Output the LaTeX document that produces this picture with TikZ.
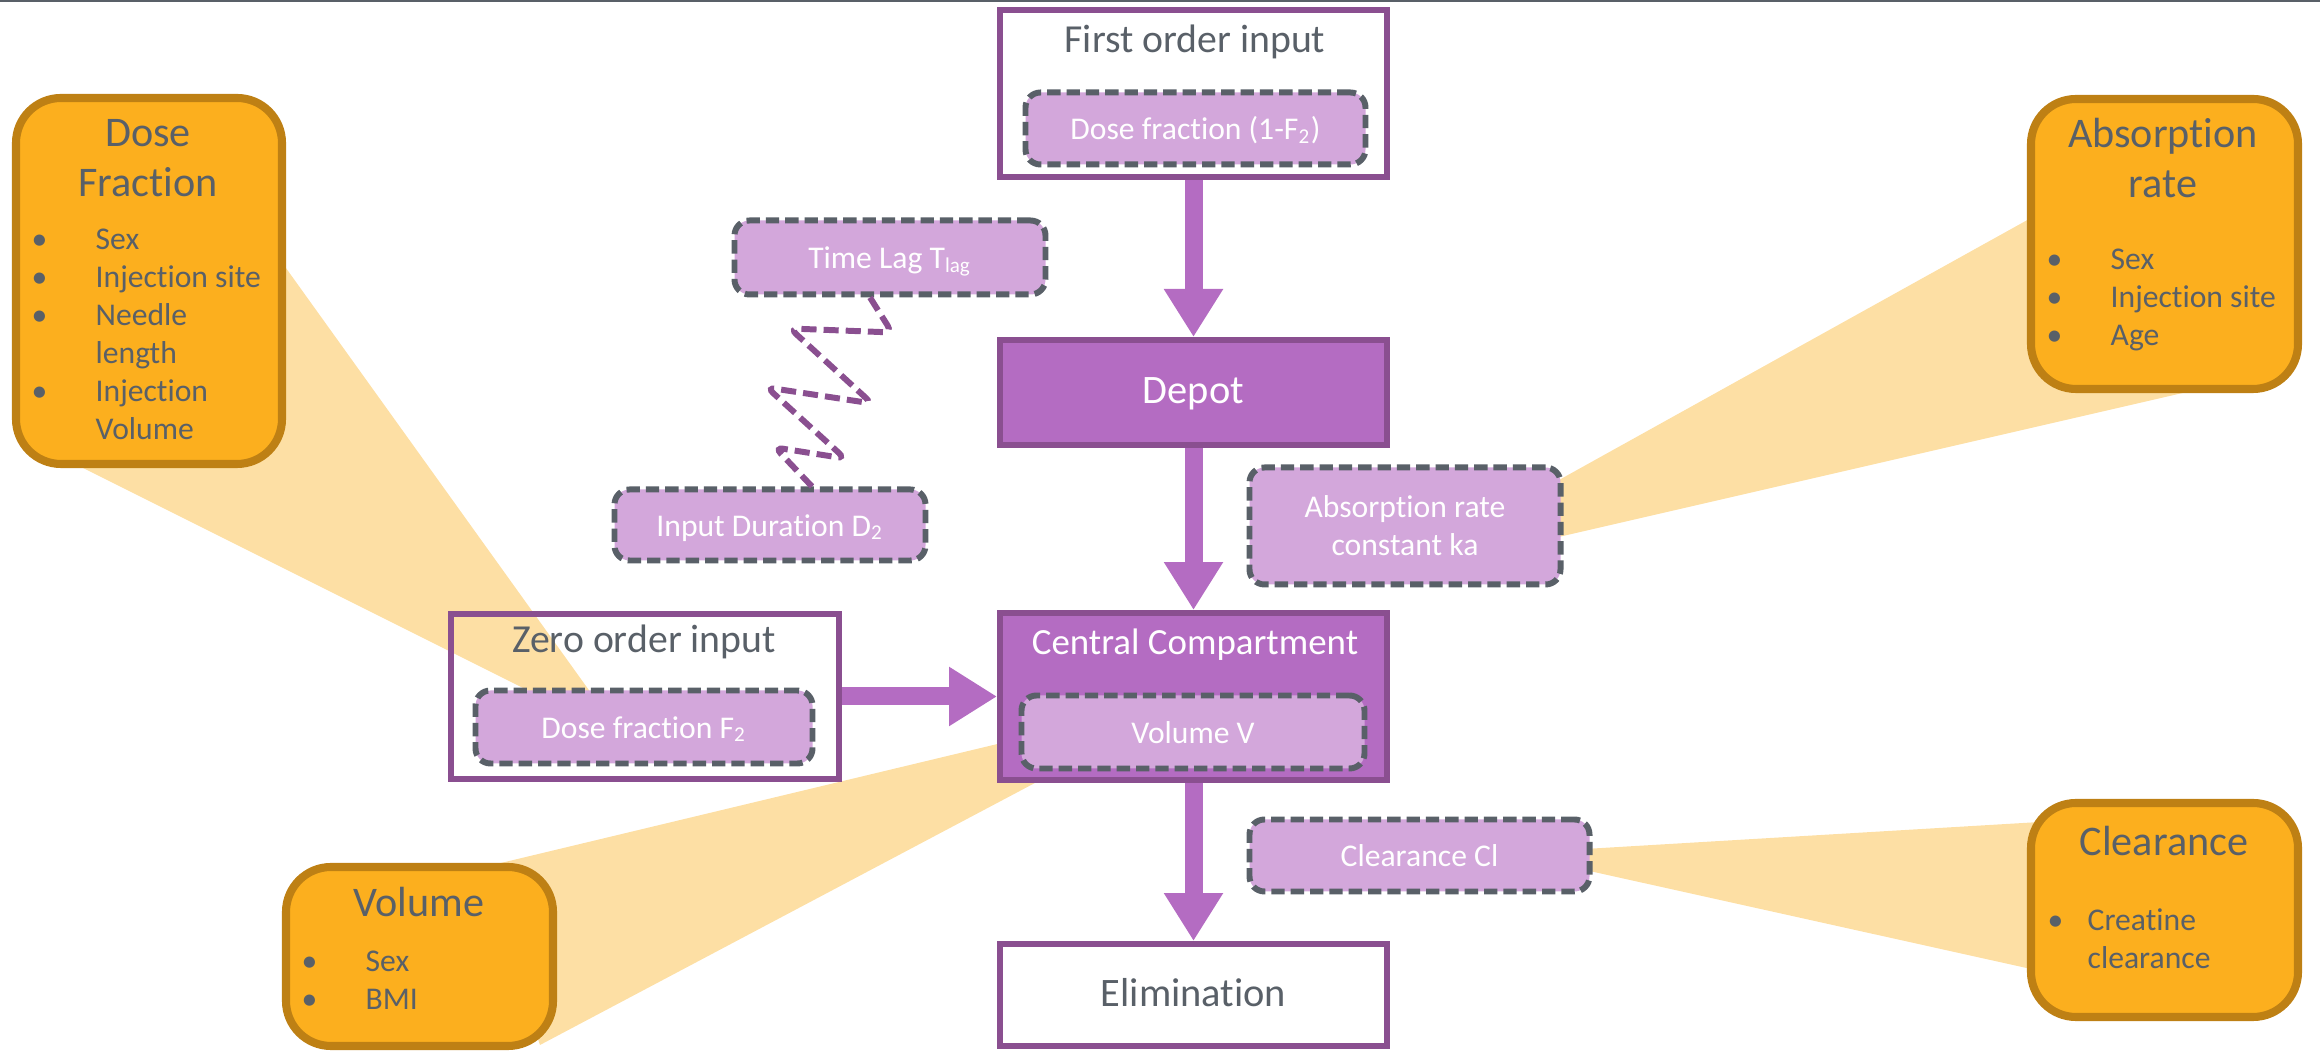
\documentclass[tikz,border=0pt]{standalone}
\usepackage{fontspec}
\setmainfont{Carlito}[Ligatures=NoCommon]
\usetikzlibrary{arrows.meta}

\definecolor{covorange}{RGB}{252,175,30}
\definecolor{covedge}{RGB}{190,128,20}
\definecolor{beamorange}{RGB}{253,223,164}
\definecolor{midpurple}{RGB}{180,108,194}
\definecolor{darkpurple}{RGB}{138,79,144}
\definecolor{lightpurple}{RGB}{211,167,219}
\definecolor{textgray}{RGB}{89,96,104}

\tikzset{
	comp/.style={draw=darkpurple, line width=1.7pt, minimum width=3.87cm, inner sep=0pt, text=textgray, text height=6.4pt, text depth=0pt, font=\fontsize{11.5}{13.8}\selectfont},
	comptitle/.style={anchor=base, inner sep=0pt, text=textgray, font=\fontsize{11.3}{13.6}\selectfont},
	param/.style={draw=textgray, fill=lightpurple, line width=1.7pt, dash pattern=on 3.8pt off 1.7pt, rounded corners=0.15cm, inner sep=0pt, text=white, align=center, font=\fontsize{9}{10.8}\selectfont},
	oneline/.style={text height=6.5pt, text depth=0pt},
	cov/.style={draw=covedge, fill=covorange, line width=2.3pt, rounded corners=0.45cm, minimum width=2.67cm},
	covtitle/.style={anchor=base, inner sep=0pt, text=textgray, font=\fontsize{12}{14.2}\selectfont},
	covlist/.style={anchor=base west, inner sep=0pt, text=textgray, font=\fontsize{9}{10.8}\selectfont},
	beam/.style={fill=beamorange},
	flow/.style={draw=midpurple, line width=0.18cm, -{Triangle[width=0.56cm, length=0.48cm]}},
	lagline/.style={draw=darkpurple, line width=1.7pt, dash pattern=on 4.3pt off 2pt, rounded corners=0.08cm}
}

\begin{document}
\begin{tikzpicture}
	\useasboundingbox (0,0) rectangle (23.2,-10.52);
	\draw[textgray, line width=0.03cm] (0,-0.01) -- (23.2,-0.01);

	%Beams
	\fill[beam] (5.96,-7.00) -- (2.73,-2.50) -- (0.47,-4.50) -- (5.47,-7.00) -- cycle;
	\fill[beam] (15.50,-4.85) -- (20.40,-2.13) -- (22.00,-3.89) -- (15.50,-5.39) -- cycle;
	\fill[beam] (10.10,-7.41) -- (4.80,-8.68) -- (5.40,-10.45) -- (10.50,-7.75) -- cycle;
	\fill[beam] (15.85,-8.49) -- (20.40,-8.22) -- (20.40,-9.71) -- (15.85,-8.70) -- cycle;

	%Covariates
	\node[cov, minimum width=2.66cm, minimum height=3.66cm] (dosefrac) at (1.49,-2.81) {};
	\node[cov, minimum height=2.90cm] (absrate) at (21.645,-2.44) {};
	\node[cov, minimum height=1.79cm] (volbox) at (4.195,-9.565) {};
	\node[cov, minimum height=2.14cm] (clbox) at (21.645,-9.10) {};
	\node[covtitle] (dosefractitle) at (1.48,-1.47) {\begin{tabular}[t]{@{}c@{}}Dose\\Fraction\end{tabular}};
	\node[covtitle] (absratetitle) at (21.63,-1.48) {\begin{tabular}[t]{@{}c@{}}Absorption\\rate\end{tabular}};
	\node[covtitle] (voltitle) at (4.19,-9.17) {Volume};
	\node[covtitle] (cltitle) at (21.64,-8.56) {Clearance};
	\node[covlist] (dosefraclist) at (0.31,-2.50) {\begin{tabular}[t]{@{}p{0.64cm}@{}l@{}}\textbullet & Sex\\ \textbullet & Injection site\\ \textbullet & Needle\\ & length\\ \textbullet & Injection\\ & Volume\end{tabular}};
	\node[covlist] (absratelist) at (20.46,-2.70) {\begin{tabular}[t]{@{}p{0.64cm}@{}l@{}}\textbullet & Sex\\ \textbullet & Injection site\\ \textbullet & Age\end{tabular}};
	\node[covlist] (vollist) at (3.01,-9.72) {\begin{tabular}[t]{@{}p{0.64cm}@{}l@{}}\textbullet & Sex\\ \textbullet & BMI\end{tabular}};
	\node[covlist] (cllist) at (20.47,-9.31) {\begin{tabular}[t]{@{}p{0.40cm}@{}l@{}}\textbullet & Creatine\\ & clearance\end{tabular}};

	%Model
	\node[comp, fill=white, minimum height=1.67cm] (first) at (11.935,-0.935) {};
	\node[comp, fill=midpurple, text=white, minimum height=1.05cm] (depot) at (11.935,-3.925) {Depot};
	\node[comp, minimum width=3.88cm, minimum height=1.65cm] (zero) at (6.45,-6.965) {};
	\node[comp, fill=midpurple, minimum height=1.67cm] (central) at (11.935,-6.965) {};
	\node[comp, fill=white, minimum height=1.02cm] (elim) at (11.935,-9.95) {Elimination};
	\node[comptitle] (firsttitle) at (11.95,-0.53) {First order input};
	\node[comptitle] (zerotitle) at (6.44,-6.53) {Zero order input};
	\node[comptitle, text=white, font=\fontsize{10.5}{12.6}\selectfont] (centraltitle) at (11.95,-6.55) {Central Compartment};

	%Parameters
	\node[param, oneline, minimum width=3.40cm, minimum height=0.72cm] (dfirst) at (11.955,-1.285) {Dose fraction (1-F\textsubscript{2})};
	\node[param, oneline, minimum width=3.11cm, minimum height=0.74cm] (tlag) at (8.90,-2.575) {Time Lag T\textsubscript{lag}};
	\node[param, oneline, minimum width=3.11cm, minimum height=0.71cm] (dur) at (7.70,-5.25) {Input Duration D\textsubscript{2}};
	\node[param, minimum width=3.11cm, minimum height=1.17cm] (ka) at (14.05,-5.26) {Absorption rate\\constant ka};
	\node[param, oneline, minimum width=3.43cm, minimum height=0.73cm] (volv) at (11.93,-7.32) {Volume V};
	\node[param, oneline, minimum width=3.37cm, minimum height=0.73cm] (f2) at (6.44,-7.27) {Dose fraction F\textsubscript{2}};
	\node[param, oneline, minimum width=3.40cm, minimum height=0.72cm] (cl) at (14.195,-8.555) {Clearance Cl};

	\draw[flow] (first) -- (depot);
	\draw[flow] (depot) -- (central);
	\draw[flow] (central) -- (elim);
	\draw[flow] (zero) -- (central);
	\draw[lagline] ([xshift=-0.2cm]tlag.south) -- ++(0.22,-0.35) -- ++(-1.02,0.04) -- ++(0.82,-0.75) -- ++(-1.05,0.16) -- ++(0.78,-0.71) -- ++(-0.70,0.11) -- ([xshift=0.42cm]dur.north);
\end{tikzpicture}
\end{document}
